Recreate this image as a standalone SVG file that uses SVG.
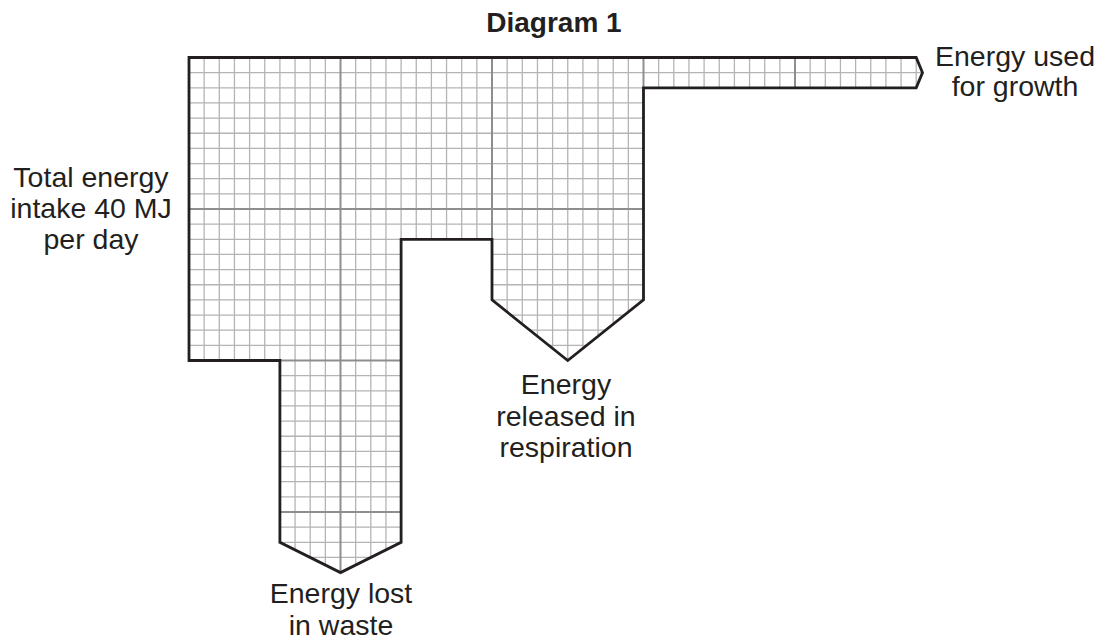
<svg xmlns="http://www.w3.org/2000/svg" width="1100" height="641" viewBox="0 0 1100 641">
  <style>
    .lbl { font-family: "Liberation Sans", Arial, sans-serif; font-size: 28.5px; fill: #231f20; text-anchor: middle; }
    .title { font-weight: bold; font-size: 28px; }
    .minor { fill: none; stroke: #b4b4b4; stroke-width: 1.3; }
    .major { fill: none; stroke: #8e8e8e; stroke-width: 2; }
    .outline { fill: none; stroke: #231f20; stroke-width: 2.8; stroke-linejoin: miter; }
  </style>
  <defs>
    <clipPath id="shapeClip">
      <polygon points="189,57.5 916.2,57.5 922.5,72.65 916.2,87.8 643.5,87.8 643.5,299.9 567.75,360.5 492,299.9 492,239.3 401.1,239.3 401.1,542.3 340.5,572.6 279.9,542.3 279.9,360.5 189,360.5"/>
    </clipPath>
  </defs>
  <rect width="1100" height="641" fill="#ffffff"/>

  <g id="title">
    <text class="lbl title" x="554" y="32">Diagram 1</text>
  </g>

  <g id="sankey-flow">
    <g clip-path="url(#shapeClip)">
      <path class="minor" d="M204.15,57V575 M219.3,57V575 M234.45,57V575 M249.6,57V575 M264.75,57V575 M279.9,57V575 M295.05,57V575 M310.2,57V575 M325.35,57V575 M355.65,57V575 M370.8,57V575 M385.95,57V575 M401.1,57V575 M416.25,57V575 M431.4,57V575 M446.55,57V575 M461.7,57V575 M476.85,57V575 M507.15,57V575 M522.3,57V575 M537.45,57V575 M552.6,57V575 M567.75,57V575 M582.9,57V575 M598.05,57V575 M613.2,57V575 M628.35,57V575 M658.65,57V575 M673.8,57V575 M688.95,57V575 M704.1,57V575 M719.25,57V575 M734.4,57V575 M749.55,57V575 M764.7,57V575 M779.85,57V575 M810.15,57V575 M825.3,57V575 M840.45,57V575 M855.6,57V575 M870.75,57V575 M885.9,57V575 M901.05,57V575 M916.2,57V575
        M189,72.65H925 M189,87.8H925 M189,102.95H925 M189,118.1H925 M189,133.25H925 M189,148.4H925 M189,163.55H925 M189,178.7H925 M189,193.85H925 M189,224.15H925 M189,239.3H925 M189,254.45H925 M189,269.6H925 M189,284.75H925 M189,299.9H925 M189,315.05H925 M189,330.2H925 M189,345.35H925 M189,375.65H925 M189,390.8H925 M189,405.95H925 M189,421.1H925 M189,436.25H925 M189,451.4H925 M189,466.55H925 M189,481.7H925 M189,496.85H925 M189,527.15H925 M189,542.3H925 M189,557.45H925"/>
      <path class="major" d="M340.5,57V575 M492,57V575 M643.5,57V575 M795,57V575 M189,209H925 M189,360.5H925 M189,512H925"/>
    </g>
    <polygon class="outline" points="189,57.5 916.2,57.5 922.5,72.65 916.2,87.8 643.5,87.8 643.5,299.9 567.75,360.5 492,299.9 492,239.3 401.1,239.3 401.1,542.3 340.5,572.6 279.9,542.3 279.9,360.5 189,360.5"/>
  </g>

  <g id="label-intake">
    <text class="lbl" x="91" y="187">Total energy</text>
    <text class="lbl" x="91" y="218">intake 40 MJ</text>
    <text class="lbl" x="91" y="249">per day</text>
  </g>

  <g id="label-growth">
    <text class="lbl" x="1015" y="66">Energy used</text>
    <text class="lbl" x="1015" y="96">for growth</text>
  </g>

  <g id="label-respiration">
    <text class="lbl" x="566" y="394">Energy</text>
    <text class="lbl" x="566" y="426">released in</text>
    <text class="lbl" x="566" y="457">respiration</text>
  </g>

  <g id="label-waste">
    <text class="lbl" x="341" y="603">Energy lost</text>
    <text class="lbl" x="341" y="635">in waste</text>
  </g>
</svg>
